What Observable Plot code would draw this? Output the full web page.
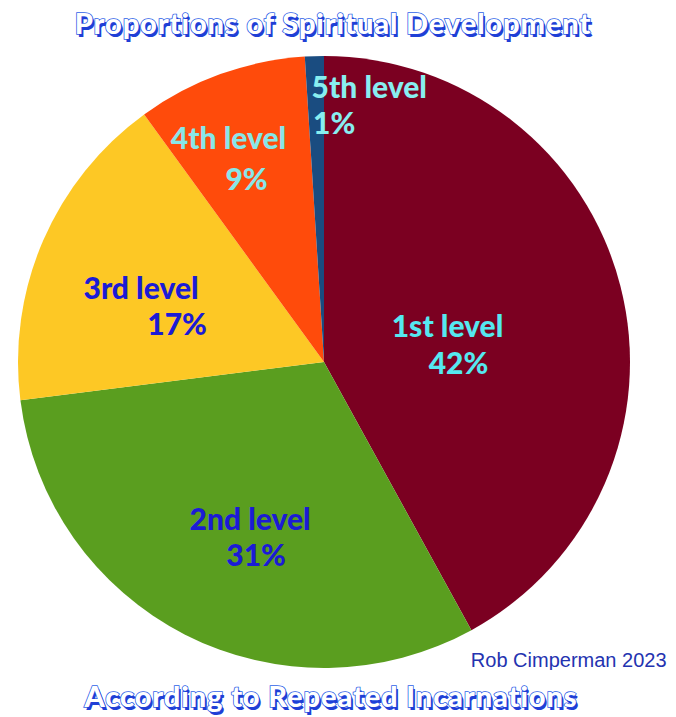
<!DOCTYPE html>
<html><head><meta charset="utf-8">
<script src="https://cdn.jsdelivr.net/npm/d3@7"></script>
<script src="https://cdn.jsdelivr.net/npm/@observablehq/plot@0.6"></script>
<style>
body{margin:0;background:#fff;width:676px;height:717px;overflow:hidden}
.fancy{font-family:Lato,"DejaVu Sans",sans-serif;font-weight:900;color:#fff;-webkit-text-stroke:1.6px #2f62e8;paint-order:stroke fill;text-shadow:2px 3px 0 #1f3fd6;text-align:center;font-size:29px;letter-spacing:0.9px;white-space:nowrap}
#title{height:50px;line-height:46px;padding-right:10px}
#sub{height:47px;line-height:52px;padding-right:14px}
#chart svg{display:block}
</style></head><body>
<div id="title" class="fancy">Proportions of Spiritual Development</div>
<div id="chart"></div>
<div id="sub" class="fancy">According to Repeated Incarnations</div>
<script>
// data
const levels = ["1st level", "2nd level", "3rd level", "4th level", "5th level"];
const percents = [42, 31, 17, 9, 1];
const sliceColors = ["#7b0021", "#5a9e1f", "#fdc825", "#ff4b0b", "#1a4c80"];
const labelColors = ["#55e8f0", "#1b1bd6", "#1b1bd6", "#88e6e8", "#88eef0"];
const credit = "Rob Cimperman 2023";

// label nudges (style offsets, px) for the two label lines
const nudge1 = [[-40, 7], [2, 8], [-29, -6], [-39, -65], [50, -106]];
const nudge2 = [[-29, 44], [8, 44], [7, 30], [-21, -24], [15, -70]];

const table = levels.map((level, i) => ({level, value: percents[i], color: sliceColors[i], text: labelColors[i]}));
const arcs = d3.pie().sort(null).value(d => d.value)(table);
const labelR = 0.55;
const labels = arcs.map(a => {
  const m = (a.startAngle + a.endAngle) / 2;
  return {...a.data, cx: labelR * Math.sin(m), cy: labelR * Math.cos(m), pct: a.data.value + "%"};
});

function pieMark(index, scales) {
  const cx = scales.x(0), cy = scales.y(0);
  const r = scales.x(1) - scales.x(0);
  const arc = d3.arc().innerRadius(0).outerRadius(r);
  const g = d3.create("svg:g").attr("transform", `translate(${cx},${cy})`);
  g.selectAll("path").data(arcs).join("path")
    .attr("d", arc)
    .attr("fill", d => d.data.color);
  return g.node();
}

const font = "Lato, 'DejaVu Sans', sans-serif";
const plot = Plot.plot({
  width: 676,
  height: 620,
  margin: 0,
  x: {domain: [-1, 1], range: [18, 630], axis: null},
  y: {domain: [-1, 1], range: [618, 6], axis: null},
  marks: [
    pieMark,
    ...labels.map((d, i) => Plot.text([d], {x: "cx", y: "cy", text: "level", fill: d.text, fontSize: 30, fontWeight: 900, fontFamily: font, dx: nudge1[i][0], dy: nudge1[i][1]})),
    ...labels.map((d, i) => Plot.text([d], {x: "cx", y: "cy", text: "pct", fill: d.text, fontSize: 30, fontWeight: 900, fontFamily: font, dx: nudge2[i][0], dy: nudge2[i][1]})),
    Plot.text([credit], {frameAnchor: "bottom-right", text: d => d, fill: "#2433b0", fontSize: 20, fontFamily: "'Liberation Sans', Arial, sans-serif", dx: -10, dy: -4})
  ]
});
document.getElementById("chart").appendChild(plot);
</script>
</body></html>
